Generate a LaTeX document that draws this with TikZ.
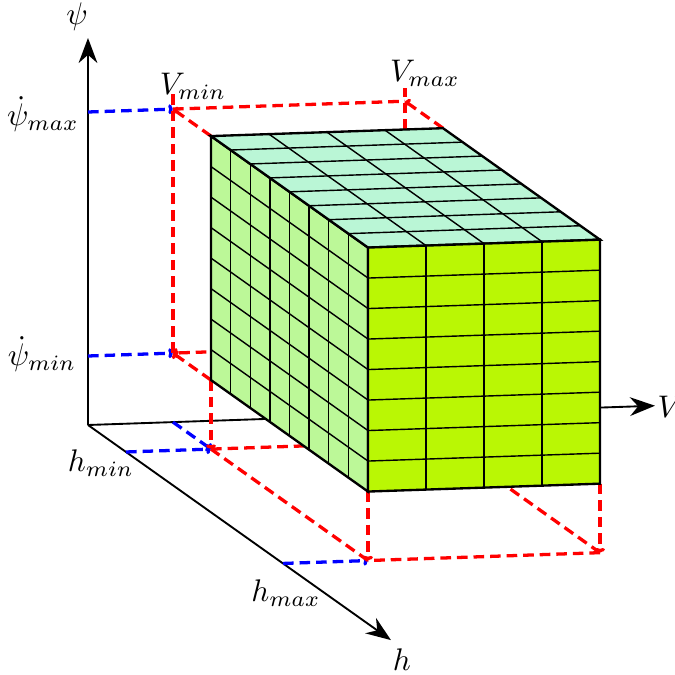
\documentclass[tikz,border=0pt]{standalone}
\usetikzlibrary{arrows.meta}
\definecolor{frontc}{RGB}{186,247,4}
\definecolor{leftc}{RGB}{188,248,152}
\definecolor{topc}{RGB}{186,246,214}
\begin{document}
\begin{tikzpicture}[x=0.32pt,y=-0.32pt,
  axis/.style={line width=0.6pt,-{Stealth[length=8pt,width=6pt]}},
  redproj/.style={red,line width=1.05pt,dash pattern=on 3.4pt off 1.9pt},
  blueproj/.style={blue,line width=1.05pt,dash pattern=on 3.4pt off 1.9pt},
  tipd/.style={-{To[length=1.5pt,width=3.2pt]}},
  facebox/.style={draw=black,line width=0.75pt},
  gridline/.style={draw=black,line width=0.45pt},
  lbl/.style={inner sep=0pt}]
\useasboundingbox (0,0) rectangle (675,675);
\begin{scope}[x={(0.32pt,0.01088pt)}, y={(0.32pt,-0.2272pt)}, z={(0pt,0.32pt)}, shift={(28.16pt,-136pt)}]
  % axes
  \coordinate (O) at (0,0,0);
  \coordinate (psiend) at (0,0,387);
  \coordinate (Vend) at (567,0,0);
  \coordinate (hend) at (0,303,0);
  % ticks
  \coordinate (psimaxT) at (0,0,313);
  \coordinate (psiminT) at (0,0,69);
  \coordinate (hminT) at (0,38,0);
  \coordinate (hmaxT) at (0,195,0);
  \coordinate (VminT) at (85,0,0);
  % back plane
  \coordinate (B11) at (85,0,313);
  \coordinate (B21) at (317,0,313);
  \coordinate (B10) at (85,0,69);
  \coordinate (B20) at (317,0,69);
  \coordinate (Vmintop) at (85,0,330);
  \coordinate (Vmaxtop) at (317,0,326);
  % floor
  \coordinate (F1) at (85,38,0);
  \coordinate (F2) at (317,38,0);
  \coordinate (F3) at (85,195,0);
  \coordinate (F4) at (317,195,0);
  % cube corners
  \coordinate (Caaa) at (85,38,69);
  \coordinate (Caab) at (85,38,313);
  \coordinate (Caba) at (85,195,69);
  \coordinate (Cabb) at (85,195,313);
  \coordinate (Cbaa) at (317,38,69);
  \coordinate (Cbab) at (317,38,313);
  \coordinate (Cbba) at (317,195,69);
  \coordinate (Cbbb) at (317,195,313);

  \draw[axis] (O) -- (psiend);
  \draw[axis] (O) -- (Vend);
  \draw[axis] (O) -- (hend);

  % blue projections
  \draw[blueproj,tipd] (psimaxT) -- (B11);
  \draw[blueproj,tipd] (psiminT) -- (B10);
  \draw[blueproj,tipd] (hminT) -- (F1);
  \draw[blueproj,tipd] (VminT) -- (F1);
  \draw[blueproj,tipd] (hmaxT) -- (F3);

  % red projections, back plane
  \draw[redproj] (B10) -- (Vmintop);
  \draw[redproj] (B20) -- (Vmaxtop);
  \draw[redproj] (B11) -- (B21);
  \draw[redproj,tipd] (B20) -- (B10);
  \draw[redproj,tipd] (Caab) -- (B11);
  \draw[redproj,tipd] (Cbab) -- (B21);
  \draw[redproj,tipd] (Caaa) -- (B10);
  % floor
  \draw[redproj] (F1) -- (F2);
  \draw[redproj] (F2) -- (F4);
  \draw[redproj] (F4) -- (F3);
  \draw[redproj] (F3) -- (F1);
  \draw[redproj,tipd] (Caaa) -- (F1);
  \draw[redproj,tipd] (Caba) -- (F3);
  \draw[redproj,tipd] (Cbba) -- (F4);
  \draw[redproj,tipd] (Cbaa) -- (F2);

  % left face
  \fill[leftc] (Caaa) -- (Caba) -- (Cabb) -- (Caab) -- cycle;
  \foreach \i in {1,...,7} {
    \draw[gridline] (85,38+\i*19.625,69) -- (85,38+\i*19.625,313);
    \draw[gridline] (85,38,69+\i*30.5) -- (85,195,69+\i*30.5);
  }
  \draw[facebox] (Caaa) -- (Caba) -- (Cabb) -- (Caab) -- cycle;
  % top face
  \fill[topc] (Caab) -- (Cbab) -- (Cbbb) -- (Cabb) -- cycle;
  \foreach \k in {1,2,3} {
    \draw[gridline] (85+\k*58,38,313) -- (85+\k*58,195,313);
  }
  \foreach \i in {1,...,7} {
    \draw[gridline] (85,38+\i*19.625,313) -- (317,38+\i*19.625,313);
  }
  \draw[facebox] (Caab) -- (Cbab) -- (Cbbb) -- (Cabb) -- cycle;
  % front face
  \fill[frontc] (Caba) -- (Cbba) -- (Cbbb) -- (Cabb) -- cycle;
  \foreach \k in {1,2,3} {
    \draw[gridline] (85+\k*58,195,69) -- (85+\k*58,195,313);
  }
  \foreach \i in {1,...,7} {
    \draw[gridline] (85,195,69+\i*30.5) -- (317,195,69+\i*30.5);
  }
  \draw[facebox] (Caba) -- (Cbba) -- (Cbbb) -- (Cabb) -- cycle;
\end{scope}

% labels
\node[lbl] (lpsi) at (77,17) {$\psi$};
\node[lbl] (lpsimax) at (43,114) {$\dot\psi_{max}$};
\node[lbl] (lpsimin) at (42,354) {$\dot\psi_{min}$};
\node[lbl] (lvmin) at (193,86) {$V_{min}$};
\node[lbl] (lvmax) at (425,73) {$V_{max}$};
\node[lbl] (lhmin) at (101,463) {$h_{min}$};
\node[lbl] (lhmax) at (286,593) {$h_{max}$};
\node[lbl] (lh) at (402,660) {$h$};
\node[lbl,anchor=west] (lV) at (657,407) {$V$};
\end{tikzpicture}
\end{document}
